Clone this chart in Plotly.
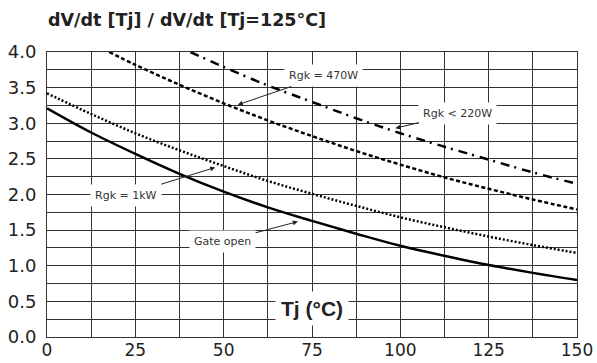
import plotly.graph_objects as go

# Junction temperature (°C) and normalised dV/dt readings for each gate condition
tj_gate_open = [0, 12.5, 25, 37.5, 50, 62.5, 75, 87.5, 100, 112.5, 125, 137.5, 150]
dvdt_gate_open = [3.21, 2.87, 2.57, 2.29, 2.04, 1.82, 1.63, 1.45, 1.28, 1.14, 1.01, 0.90, 0.80]

tj_rgk_1k = [0, 12.5, 25, 37.5, 50, 62.5, 75, 87.5, 100, 112.5, 125, 137.5, 150]
dvdt_rgk_1k = [3.42, 3.13, 2.86, 2.62, 2.40, 2.19, 2.01, 1.84, 1.68, 1.54, 1.41, 1.29, 1.18]

tj_rgk_470 = [17.6, 25, 37.5, 50, 62.5, 75, 87.5, 100, 112.5, 125, 137.5, 150]
dvdt_rgk_470 = [4.00, 3.82, 3.54, 3.28, 3.04, 2.82, 2.61, 2.42, 2.24, 2.08, 1.93, 1.79]

tj_rgk_220 = [40.6, 50, 62.5, 75, 87.5, 100, 112.5, 125, 137.5, 150]
dvdt_rgk_220 = [4.00, 3.79, 3.53, 3.30, 3.07, 2.86, 2.67, 2.49, 2.31, 2.15]

# Grid positions and tick labels
x_grid = [0, 12.5, 25, 37.5, 50, 62.5, 75, 87.5, 100, 112.5, 125, 137.5, 150]
x_labels = ["0", "", "25", "", "50", "", "75", "", "100", "", "125", "", "150"]
y_grid = [0, 0.25, 0.5, 0.75, 1.0, 1.25, 1.5, 1.75, 2.0, 2.25, 2.5, 2.75, 3.0,
          3.25, 3.5, 3.75, 4.0]
y_labels = ["0.0", "", "0.5", "", "1.0", "", "1.5", "", "2.0", "", "2.5", "",
            "3.0", "", "3.5", "", "4.0"]

TEXT = "#222222"
LABEL_FONT = "DejaVu Sans, Arial, sans-serif"

fig = go.Figure()

fig.add_trace(go.Scatter(x=tj_gate_open, y=dvdt_gate_open, mode="lines",
                         line=dict(color="black", width=2.5, shape="spline"),
                         name="Gate open"))
fig.add_trace(go.Scatter(x=tj_rgk_1k, y=dvdt_rgk_1k, mode="lines",
                         line=dict(color="black", width=2.5, dash="2px,2px",
                                   shape="spline"),
                         name="Rgk = 1kW"))
fig.add_trace(go.Scatter(x=tj_rgk_470, y=dvdt_rgk_470, mode="lines",
                         line=dict(color="black", width=2.5, dash="4px,2.5px",
                                   shape="spline"),
                         name="Rgk = 470W"))
fig.add_trace(go.Scatter(x=tj_rgk_220, y=dvdt_rgk_220, mode="lines",
                         line=dict(color="black", width=2.5,
                                   dash="9px,5px,2px,6px", shape="spline"),
                         name="Rgk < 220W"))

# Curve labels with leader arrows: (text, tip x, tip y, text x, text y)
callouts = [
    ("Rgk = 470W", 54.0, 3.26, 78.3, 3.67),
    ("Rgk < 220W", 98.6, 2.93, 116.3, 3.14),
    ("Rgk = 1kW", 47.6, 2.38, 22.3, 1.99),
    ("Gate open", 71.0, 1.62, 49.7, 1.34),
]
for text, hx, hy, tx, ty in callouts:
    fig.add_annotation(x=hx, y=hy, ax=tx, ay=ty, axref="x", ayref="y",
                       text=text, showarrow=True, arrowhead=2, arrowsize=1,
                       arrowwidth=1, arrowcolor="#222222", standoff=0,
                       bgcolor="white", borderpad=4,
                       font=dict(family=LABEL_FONT, size=11, color="#333333"))

# Axis title placed inside the plot area
fig.add_annotation(x=75, y=0.40, text="<b>Tj (°C)</b>", showarrow=False,
                   bgcolor="white", borderpad=5,
                   font=dict(family="Liberation Sans, Arial, sans-serif",
                             size=21, color=TEXT))

fig.update_layout(
    width=597, height=363,
    margin=dict(l=47, r=20, t=52, b=26),
    paper_bgcolor="white", plot_bgcolor="white",
    showlegend=False,
    title=dict(text="<b>dV/dt [Tj] / dV/dt [Tj=125°C]</b>",
               xref="container", yref="container",
               x=48 / 597, xanchor="left", y=1 - 20 / 363, yanchor="middle",
               font=dict(family=LABEL_FONT, size=17.5, color=TEXT)),
)

fig.update_xaxes(range=[0, 150], tickmode="array", tickvals=x_grid,
                 ticktext=x_labels, ticks="", showgrid=True, automargin=False,
                 gridcolor="#333333", gridwidth=1, zeroline=False,
                 showline=True, linecolor="#333333", linewidth=1, mirror=True,
                 ticklabelstandoff=-2,
                 tickfont=dict(family=LABEL_FONT, size=17, color=TEXT))
fig.update_yaxes(range=[0, 4], tickmode="array", tickvals=y_grid,
                 ticktext=y_labels, ticks="", showgrid=True, automargin=False,
                 gridcolor="#333333", gridwidth=1, zeroline=False,
                 showline=True, linecolor="#333333", linewidth=1, mirror=True,
                 ticklabelstandoff=6,
                 tickfont=dict(family=LABEL_FONT, size=18, color=TEXT))

fig.write_html("out.html")
